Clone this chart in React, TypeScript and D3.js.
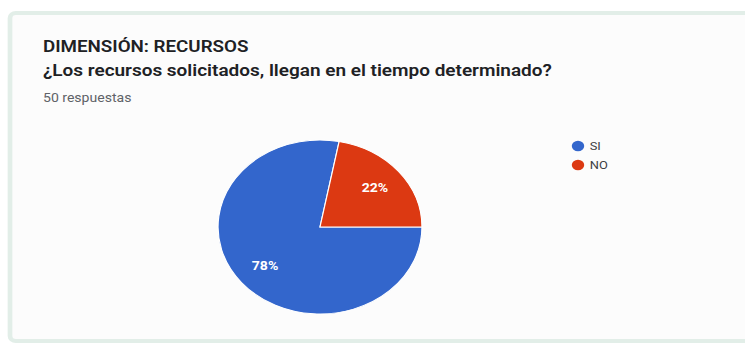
import { useEffect, useRef } from 'react'
import * as d3 from 'd3'

const categories = ['SI', 'NO']
const values = [78, 22]
const colors = ['#3366cc', '#dc3912']

const title = 'DIMENSIÓN: RECURSOS'
const question = '¿Los recursos solicitados, llegan en el tiempo determinado?'
const responses = '50 respuestas'

export default function App() {
  const svgRef = useRef<SVGSVGElement>(null)

  useEffect(() => {
    if (!svgRef.current) return
    const width = 745
    const height = 346
    // the source screenshot is stretched horizontally
    const sx = 1.172
    const svg = d3.select(svgRef.current)
    svg.selectAll('*').remove()
    svg.attr('width', width).attr('height', height)

    svg.append('rect').attr('width', width).attr('height', height).attr('fill', '#ffffff')

    const root = svg.append('g').attr('transform', `scale(${sx},1)`)
    const X = (x: number) => x / sx

    // card
    root.append('rect')
      .attr('x', X(10)).attr('y', 13)
      .attr('width', X(width + 20)).attr('height', 328)
      .attr('rx', 5)
      .attr('fill', '#fcfcfc')
      .attr('stroke', '#e2eee8')
      .attr('stroke-width', 4)

    const font = 'Roboto, "Noto Sans", sans-serif'

    root.append('text')
      .attr('x', X(43)).attr('y', 52)
      .style('font-family', font).style('font-size', '16px').style('font-weight', 600)
      .style('fill', '#202124')
      .text(title)

    root.append('text')
      .attr('x', X(43)).attr('y', 76)
      .style('font-family', font).style('font-size', '16.2px').style('font-weight', 600)
      .style('fill', '#202124')
      .text(question)

    root.append('text')
      .attr('x', X(43)).attr('y', 102)
      .style('font-family', font).style('font-size', '12px')
      .style('fill', '#5f6368')
      .text(responses)

    const cx = X(320)
    const cy = 227
    const r = 87

    const pie = d3.pie<number>().sort(null).startAngle(Math.PI / 2).endAngle(Math.PI / 2 + 2 * Math.PI)
    const arcs = pie(values)
    const arc = d3.arc<d3.PieArcDatum<number>>().innerRadius(0).outerRadius(r)

    const g = root.append('g').attr('transform', `translate(${cx},${cy})`)
    g.selectAll('path')
      .data(arcs)
      .enter().append('path')
      .attr('d', arc)
      .attr('fill', (d, i) => colors[i])
      .attr('stroke', '#ffffff')
      .attr('stroke-width', 1)

    const labelArc = d3.arc<d3.PieArcDatum<number>>().innerRadius(r * 0.7).outerRadius(r * 0.7)
    const total = d3.sum(values)
    g.selectAll('.slice-label')
      .data(arcs)
      .enter().append('text')
      .attr('class', 'slice-label')
      .attr('x', d => labelArc.centroid(d)[0])
      .attr('y', d => labelArc.centroid(d)[1])
      .attr('dy', '0.35em')
      .attr('text-anchor', 'middle')
      .style('font-family', font).style('font-size', '12px').style('font-weight', 700)
      .style('fill', '#ffffff')
      .text(d => `${Math.round((d.value / total) * 100)}%`)

    const legend = root.append('g').attr('transform', `translate(${X(578)},146)`)
    const items = legend.selectAll('g')
      .data(categories)
      .enter().append('g')
      .attr('transform', (d, i) => `translate(0,${i * 19})`)
    items.append('circle').attr('r', 5.3).attr('fill', (d, i) => colors[i])
    items.append('text')
      .attr('x', 10).attr('dy', '0.35em')
      .style('font-family', font).style('font-size', '11px')
      .style('fill', '#3c4043')
      .text(d => d)
  }, [])

  return (
    <div style={{ position: 'absolute', left: 0, top: 0 }}>
      <svg ref={svgRef}></svg>
    </div>
  )
}
